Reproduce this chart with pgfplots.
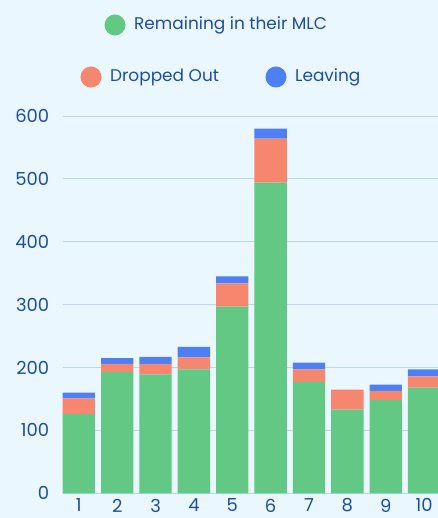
\documentclass[border=0pt]{standalone}
\usepackage{pgfplots}
\pgfplotsset{compat=1.18}
\usepackage{fontspec}
\setmainfont{Poppins}
\definecolor{bg}{HTML}{EAF7FF}
\definecolor{cgreen}{HTML}{62C883}
\definecolor{cred}{HTML}{F7866F}
\definecolor{cblue}{HTML}{4D80F5}
\definecolor{cgrid}{HTML}{BBD6EE}
\definecolor{ctext}{HTML}{1D4EA5}
\begin{document}
\begin{tikzpicture}
\path[use as bounding box, fill=bg] (0,0) rectangle (438bp,518bp);
\begin{axis}[
  at={(62.7bp,24.7bp)}, anchor=south west,
  scale only axis, width=376bp, height=377.3bp,
  ybar stacked, bar width=0.843,
  xmin=0.58, xmax=10.38, ymin=0, ymax=600,
  xtick={1,...,10}, ytick={0,100,...,600},
  axis line style={draw=none},
  axis x line*=bottom,
  tick style={draw=none},
  ymajorgrids, grid style={cgrid, line width=0.9pt},
  ticklabel style={font=\fontsize{18}{20}\selectfont, text=ctext},
  /pgf/number format/assume math mode=true,
  yticklabel style={xshift=-10bp},
  xticklabel style={yshift=-2bp},
  clip=true,
]
\addplot[fill=cgreen, draw=none] coordinates {(1,126) (2,193) (3,189) (4,197) (5,297) (6,494) (7,177) (8,133) (9,148) (10,168)};
\addplot[fill=cred, draw=none] coordinates {(1,25) (2,13) (3,17) (4,19) (5,37) (6,70) (7,20) (8,32) (9,15) (10,18)};
\addplot[fill=cblue, draw=none] coordinates {(1,9) (2,9) (3,11) (4,17) (5,11) (6,16) (7,11) (8,0) (9,10) (10,11)};
\draw[cgrid, line width=1.2pt] (rel axis cs:0,0) -- (rel axis cs:1,0);
\end{axis}
\fill[cgreen] (115bp,493bp) circle (10.5bp);
\node[anchor=west, inner sep=0pt, text=ctext, font=\fontsize{17}{20}\selectfont] at (134bp,493bp) {Remaining in their MLC};
\fill[cred] (91bp,441bp) circle (10.5bp);
\node[anchor=west, inner sep=0pt, text=ctext, font=\fontsize{17}{20}\selectfont] at (110bp,441bp) {Dropped Out};
\fill[cblue] (276bp,441bp) circle (10.5bp);
\node[anchor=west, inner sep=0pt, text=ctext, font=\fontsize{17}{20}\selectfont] at (295bp,441bp) {Leaving};
\end{tikzpicture}
\end{document}
